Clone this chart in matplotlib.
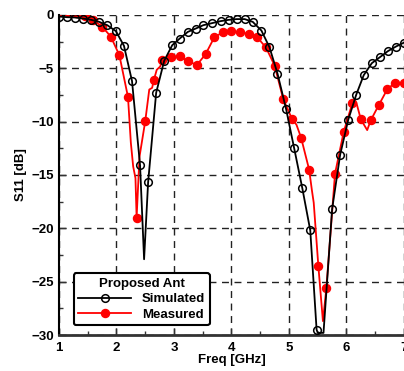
import matplotlib
matplotlib.use("Agg")
import matplotlib.pyplot as plt
from matplotlib.ticker import MultipleLocator

plt.rcParams['font.family'] = ['Liberation Sans', 'DejaVu Sans']
plt.rcParams['font.weight'] = 'bold'

# Simulated S11 (black, open circles)
sim_freq = [1.00, 1.14, 1.28, 1.42, 1.56, 1.70, 1.84, 1.99, 2.13, 2.27, 2.41, 2.48,
            2.55, 2.69, 2.83, 2.97, 3.10, 3.24, 3.38, 3.51, 3.66, 3.81, 3.95, 4.09,
            4.23, 4.37, 4.52, 4.66, 4.80, 4.95, 5.09, 5.23, 5.37, 5.48, 5.50, 5.60,
            5.75, 5.89, 6.03, 6.17, 6.30, 6.44, 6.58, 6.72, 6.86, 7.00]
sim_s11 = [-0.16, -0.22, -0.25, -0.35, -0.47, -0.66, -0.97, -1.53, -2.9, -6.2, -14.1, -22.9,
           -15.7, -7.3, -4.3, -2.84, -2.22, -1.6, -1.28, -0.97, -0.78, -0.59, -0.47, -0.4,
           -0.4, -0.66, -1.47, -3.03, -5.5, -8.84, -12.5, -16.2, -20.2, -29.5, -29.8, -29.8,
           -18.2, -13.1, -9.84, -7.47, -5.65, -4.53, -3.97, -3.4, -2.97, -2.6]
sim_no_marker = [2.48, 5.50, 5.60]

# Measured S11 (red, filled circles)
meas_freq = [1.00, 1.15, 1.30, 1.45, 1.60, 1.75, 1.90, 2.05, 2.20, 2.25, 2.29, 2.33,
             2.35, 2.40, 2.50, 2.57, 2.62, 2.65, 2.70, 2.76, 2.80, 2.95, 3.10, 3.25,
             3.40, 3.55, 3.70, 3.85, 4.00, 4.15, 4.30, 4.45, 4.60, 4.75, 4.90, 5.05,
             5.13, 5.21, 5.35, 5.40, 5.43, 5.51, 5.59, 5.65, 5.80, 5.95, 6.10, 6.17,
             6.25, 6.36, 6.42, 6.56, 6.71, 6.85, 7.00]
meas_s11 = [0.22, 0.22, 0.16, -0.1, -0.53, -1.1, -2.03, -3.78, -7.7, -12.0, -14.2, -15.3,
            -19.0, -13.3, -9.96, -7.0, -6.84, -6.1, -5.15, -4.84, -4.2, -3.94, -3.87, -4.37,
            -4.69, -3.68, -2.12, -1.62, -1.56, -1.62, -1.81, -2.12, -3.06, -4.75, -7.9, -9.72,
            -10.3, -11.5, -14.5, -16.5, -17.6, -23.5, -28.7, -25.6, -14.9, -11.0, -8.3, -8.2,
            -9.8, -10.8, -9.9, -8.47, -6.97, -6.34, -6.4]
meas_no_marker = [2.25, 2.29, 2.33, 2.40, 2.57, 2.62, 2.70, 2.76, 5.13, 5.40, 5.43,
                  5.59, 6.17, 6.36]

sim_marks = [i for i, f in enumerate(sim_freq) if f not in sim_no_marker]
meas_marks = [i for i, f in enumerate(meas_freq) if f not in meas_no_marker]

fig = plt.figure(figsize=(4.04, 3.71), dpi=100)
ax = fig.add_axes([0.146, 0.097, 0.854, 0.863])

ax.plot(sim_freq, sim_s11, color='black', lw=1.3, marker='o', ms=5.5,
        mfc='none', mec='black', mew=1.1, markevery=sim_marks, label='Simulated',
        zorder=3)
ax.plot(meas_freq, meas_s11, color='red', lw=1.3, marker='o', ms=5.8,
        mfc='red', mec='red', markevery=meas_marks, label='Measured', zorder=2)

ax.set_xlim(1, 7)
ax.set_ylim(-30, 0)
ax.xaxis.set_major_locator(MultipleLocator(1))
ax.xaxis.set_minor_locator(MultipleLocator(0.5))
ax.yaxis.set_major_locator(MultipleLocator(5))
ax.yaxis.set_minor_locator(MultipleLocator(2.5))
ax.tick_params(which='both', direction='in', labelsize=9.5, width=1, color='#333333')
ax.tick_params(which='major', length=5)
ax.tick_params(which='minor', length=3)
ax.tick_params(axis='x', pad=5)

ax.grid(True, which='major', color='#222222', linestyle=(0, (5, 4)), lw=1)
ax.spines['top'].set_visible(False)
ax.spines['right'].set_visible(False)
ax.spines['left'].set_linewidth(1.5)
ax.spines['bottom'].set_linewidth(2)
ax.spines['bottom'].set_color('#333333')

ax.set_xlabel('Freq [GHz]', fontsize=9.5, fontweight='bold', labelpad=0)
ax.set_ylabel('S11 [dB]', fontsize=9.5, fontweight='bold', labelpad=3)

leg = ax.legend(title='Proposed Ant', loc='lower left', bbox_to_anchor=(0.043, 0.03),
                borderaxespad=0, fontsize=9.5, title_fontsize=9.5, handlelength=4,
                fancybox=True, framealpha=1, edgecolor='black', labelspacing=0.25,
                borderpad=0.35)
leg.get_title().set_fontweight('bold')
leg.get_frame().set_linewidth(1.5)

fig.savefig('out.png', dpi=100)
